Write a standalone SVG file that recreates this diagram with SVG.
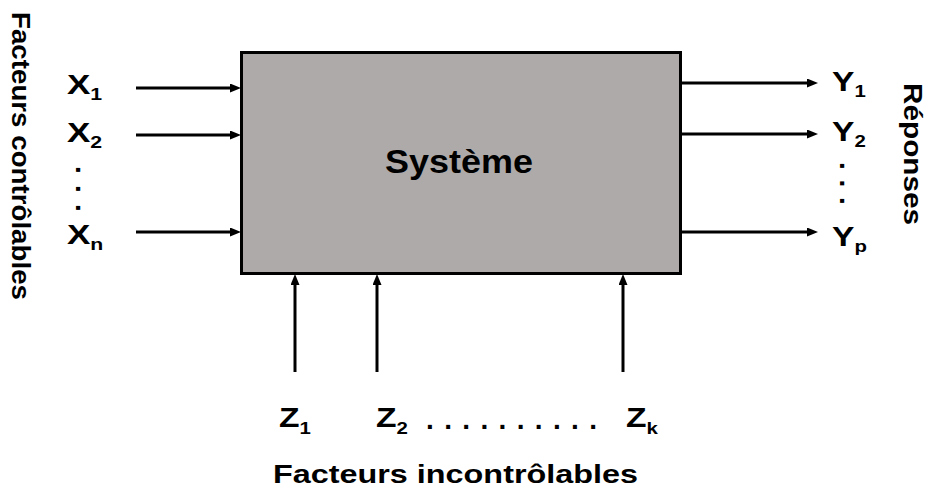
<svg xmlns="http://www.w3.org/2000/svg" width="927" height="495" viewBox="0 0 927 495">
  <style>
    text { font-family: "Liberation Sans", Arial, sans-serif; font-weight: bold; fill: #000; }
    .lbl { font-size: 28px; }
    .sub { font-size: 17px; }
    .title { font-size: 25px; }
    .dot { font-size: 28px; }
    .conn line { stroke: #000; stroke-width: 3; marker-end: url(#arr); }
  </style>
  <defs>
    <marker id="arr" markerUnits="userSpaceOnUse" markerWidth="12" markerHeight="10" refX="4" refY="4.5" orient="auto">
      <path d="M0,0 L11,4.5 L0,9 Z" fill="#000"/>
    </marker>
  </defs>
  <rect width="927" height="495" fill="#fff"/>

  <g id="systeme">
    <rect x="241.5" y="52.5" width="439" height="221" fill="#aeaaa9" stroke="#000" stroke-width="3"/>
    <text x="459" y="173" font-size="34" text-anchor="middle" textLength="148" lengthAdjust="spacingAndGlyphs">Système</text>
  </g>

  <g class="conn" id="connectors">
    <line x1="136" y1="88" x2="234" y2="88"/>
    <line x1="136" y1="135" x2="234" y2="135"/>
    <line x1="136" y1="232" x2="234" y2="232"/>
    <line x1="681" y1="83" x2="811" y2="83"/>
    <line x1="681" y1="134" x2="811" y2="134"/>
    <line x1="681" y1="232" x2="811" y2="232"/>
    <line x1="295" y1="372" x2="295" y2="281"/>
    <line x1="377" y1="372" x2="377" y2="281"/>
    <line x1="623" y1="372" x2="623" y2="281"/>
  </g>

  <g id="entrees">
    <text class="lbl" transform="translate(67 94) scale(1.25 1)">X<tspan class="sub" dy="6">1</tspan></text>
    <text class="lbl" transform="translate(67 142) scale(1.25 1)">X<tspan class="sub" dy="6">2</tspan></text>
    <text class="dot" transform="translate(76 166) rotate(90)" textLength="45.8" lengthAdjust="spacing">. . .</text>
    <text class="lbl" transform="translate(67 244) scale(1.25 1)">X<tspan class="sub" dy="6">n</tspan></text>
    <text class="title" transform="translate(12 12) rotate(90)" textLength="288" lengthAdjust="spacingAndGlyphs">Facteurs contrôlables</text>
  </g>

  <g id="reponses">
    <text class="lbl" transform="translate(832 91) scale(1.2 1)">Y<tspan class="sub" dy="6">1</tspan></text>
    <text class="lbl" transform="translate(832 141) scale(1.2 1)">Y<tspan class="sub" dy="6">2</tspan></text>
    <text class="dot" transform="translate(840 162) rotate(90)" textLength="42.8" lengthAdjust="spacing">. . .</text>
    <text class="lbl" transform="translate(832 246) scale(1.2 1)">Y<tspan class="sub" dy="6">p</tspan></text>
    <text class="title" font-size="26" transform="translate(904 83) rotate(90)" textLength="142" lengthAdjust="spacingAndGlyphs">Réponses</text>
  </g>

  <g id="incontrolables">
    <text class="lbl" font-size="27" transform="translate(279 427) scale(1.2 1)">Z<tspan class="sub" dy="7">1</tspan></text>
    <text class="lbl" font-size="27" transform="translate(376 427) scale(1.2 1)">Z<tspan class="sub" dy="7">2</tspan></text>
    <text class="dot" font-size="27" x="426" y="429" textLength="171" lengthAdjust="spacing">. . . . . . . . . .</text>
    <text class="lbl" font-size="27" transform="translate(626 427) scale(1.2 1)">Z<tspan class="sub" dy="7">k</tspan></text>
    <text font-size="26" x="273" y="483" textLength="365" lengthAdjust="spacingAndGlyphs">Facteurs incontrôlables</text>
  </g>
</svg>
